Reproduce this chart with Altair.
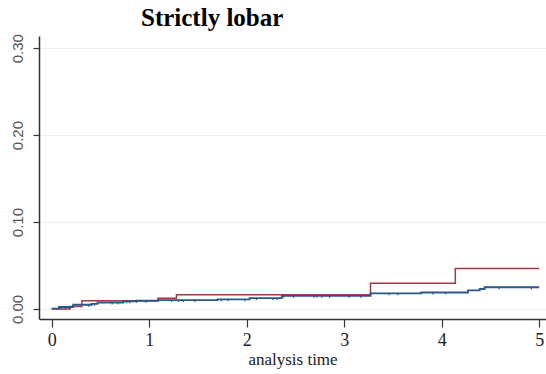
import altair as alt
import pandas as pd

# Kaplan-Meier style cumulative incidence, step curves
red_t = [0.0, 0.19, 0.31, 1.09, 1.28, 3.27, 4.14, 5.0]
red_y = [0.0, 0.003, 0.0095, 0.0125, 0.0164, 0.0296, 0.0466, 0.0466]

blue_t = [0.0, 0.075, 0.22, 0.41, 0.47, 0.73, 0.87, 1.09, 1.70, 2.03, 2.36, 3.27, 3.79, 4.27, 4.39, 4.44, 5.0]
blue_y = [0.0005, 0.0023, 0.0049, 0.006, 0.0075, 0.0087, 0.0095, 0.0102, 0.011, 0.0125, 0.0150, 0.018, 0.019, 0.0214, 0.023, 0.025, 0.025]

blue_cens = [0.10, 0.14, 0.18, 0.38, 0.41, 0.44, 0.62, 0.68, 0.74, 0.77, 0.80, 0.87, 0.97,
             1.23, 1.30, 1.35, 1.47, 1.74, 1.81, 1.98, 2.10, 2.27, 2.31, 2.38, 2.48,
             2.69, 2.72, 2.77, 2.85, 3.05, 3.17, 3.46, 3.55, 3.91, 4.04, 4.59, 4.92]

y_ticks = [0.0, 0.1, 0.2, 0.3]
x_ticks = [0, 1, 2, 3, 4, 5]

red_df = pd.DataFrame({"t": red_t, "y": red_y, "g": "red"})
blue_df = pd.DataFrame({"t": blue_t, "y": blue_y, "g": "blue"})


def step_at(ts, ys, x):
    v = ys[0]
    for tt, yy in zip(ts, ys):
        if tt <= x:
            v = yy
    return v


cens_df = pd.DataFrame({"t": blue_cens,
                        "y": [step_at(blue_t, blue_y, c) for c in blue_cens]})
cens_df["y2"] = cens_df["y"] - 0.0022

xs = alt.Scale(domain=[-0.13, 5.07], nice=False, zero=False)
ys = alt.Scale(domain=[-0.0115, 0.314], nice=False, zero=False)

x_axis = alt.Axis(values=x_ticks, format="d", title="analysis time", grid=False,
                  labelFont="Liberation Serif", labelFontSize=18, labelColor="#222",
                  titleFont="Liberation Serif", titleFontSize=17, titleFontWeight="normal",
                  titleColor="#222", titlePadding=2, tickSize=8, labelPadding=4,
                  domainColor="#333", tickColor="#333", domainWidth=1.5, tickWidth=1.2)
y_axis = alt.Axis(values=y_ticks, format=".2f", title=None, grid=True,
                  gridColor="#e8f0f2", gridWidth=1,
                  labelAngle=270, labelAlign="center", labelBaseline="bottom",
                  labelFont="Liberation Sans", labelFontSize=15, labelColor="#555",
                  tickSize=6, labelPadding=8,
                  domainColor="#333", tickColor="#333", domainWidth=1.5, tickWidth=1.2)

base_red = alt.Chart(red_df).mark_line(interpolate="step-after", color="#a23a45", strokeWidth=1.5).encode(
    x=alt.X("t:Q", scale=xs, axis=x_axis),
    y=alt.Y("y:Q", scale=ys, axis=y_axis),
)
base_blue = alt.Chart(blue_df).mark_line(interpolate="step-after", color="#2a5785", strokeWidth=1.8).encode(
    x=alt.X("t:Q", scale=xs),
    y=alt.Y("y:Q", scale=ys),
)
ticks = alt.Chart(cens_df).mark_rule(color="#2a5785", strokeWidth=1.2).encode(
    x=alt.X("t:Q", scale=xs),
    y=alt.Y("y:Q", scale=ys),
    y2="y2:Q",
)

chart = alt.layer(base_red, base_blue, ticks).properties(
    width=507, height=283,
    title=alt.TitleParams("Strictly lobar", anchor="start", dx=131, offset=3,
                          font="Liberation Serif", fontSize=25, fontWeight="bold", color="#000"),
    autosize=alt.AutoSizeParams(type="none"),
    padding={"left": 39, "top": 36, "right": 0, "bottom": 55},
).configure_view(stroke=None)

chart.save("out.html", embed_options={"renderer": "svg", "actions": False})
